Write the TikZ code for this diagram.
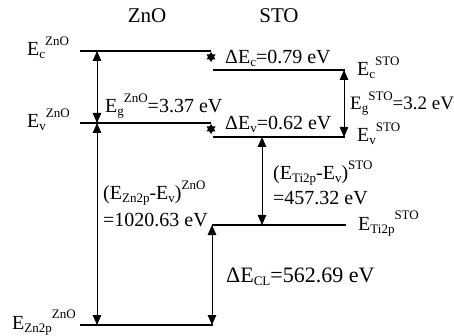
\documentclass[tikz,border=0pt]{standalone}
\usepackage{fontspec}
\setmainfont{Liberation Serif}
\usetikzlibrary{arrows.meta}
\newcommand\Sp[1]{\raisebox{0.52em}{\fontsize{13}{13}\selectfont #1}}
\newcommand\Sb[1]{\raisebox{-0.15em}{\fontsize{13}{13}\selectfont #1}}
\tikzset{
  lvl/.style={line width=1.3pt},
  dbl/.style={line width=1pt,{Triangle[length=10pt,width=8.5pt]}-{Triangle[length=10pt,width=8.5pt]}},
  lab/.style={anchor=base west,inner sep=0pt,font=\fontsize{20}{24}\selectfont},
  head/.style={anchor=base,inner sep=0pt,font=\fontsize{21}{24}\selectfont}
}
\begin{document}
\begin{tikzpicture}[x=1pt,y=-1pt]
\useasboundingbox (0,0) rectangle (454,336);
% level endpoints
\coordinate (cz1) at (80,51);  \coordinate (cz2) at (211,51);
\coordinate (vz1) at (80,123); \coordinate (vz2) at (211,123);
\coordinate (zn1) at (80,325); \coordinate (zn2) at (213,325);
\coordinate (cs1) at (213,70); \coordinate (cs2) at (345,70);
\coordinate (vs1) at (213,137); \coordinate (vs2) at (345,137);
\coordinate (ti1) at (212,225); \coordinate (ti2) at (346,225);
% arrow endpoints
\coordinate (a1t) at (97,51);  \coordinate (a1b) at (97,123);
\coordinate (a2b) at (97,325);
\coordinate (a3t) at (344,70); \coordinate (a3b) at (344,137);
\coordinate (a4t) at (262,137); \coordinate (a4b) at (262,225);
\coordinate (a5t) at (212,225); \coordinate (a5b) at (212,325);
\coordinate (dc) at (211,57);
\coordinate (dv) at (211,129);
% levels
\draw[lvl] (cz1) -- (cz2);
\draw[lvl] (vz1) -- (vz2);
\draw[lvl] (zn1) -- (zn2);
\draw[lvl] (cs1) -- (cs2);
\draw[lvl] (vs1) -- (vs2);
\draw[lvl] (ti1) -- (ti2);
% arrows
\draw[dbl] (a1t) -- (a1b);
\draw[dbl] (a1b) -- (a2b);
\draw[dbl] (a3t) -- (a3b);
\draw[dbl] (a4t) -- (a4b);
\draw[dbl] (a5t) -- (a5b);
% tiny offset markers (overlapping up/down heads)
\fill (dc) ++(-4.5,2.5) -- ++(9,0) -- ++(-4.5,-7.5) -- cycle;
\fill (dc) ++(-4.5,-2.5) -- ++(9,0) -- ++(-4.5,7.5) -- cycle;
\fill (dv) ++(-4.5,2.5) -- ++(9,0) -- ++(-4.5,-7.5) -- cycle;
\fill (dv) ++(-4.5,-2.5) -- ++(9,0) -- ++(-4.5,7.5) -- cycle;
% labels
\node[head] (hz) at (147,23) {ZnO};
\node[head] (hs) at (279,23) {STO};
\node[lab] (lcz) at (27,56) {E\Sb{c}\Sp{ZnO}};
\node[lab] (lvz) at (27,128) {E\Sb{v}\Sp{ZnO}};
\node[lab] (lzn) at (12,329) {E\Sb{Zn2p}\Sp{ZnO}};
\node[lab] (legz) at (105,113) {E\Sb{g}\Sp{ZnO}=3.37 eV};
\node[lab] (ldc) at (225,64) {ΔE\Sb{c}=0.79 eV};
\node[lab] (lcs) at (357,76) {E\Sb{c}\Sp{STO}};
\node[lab,font=\fontsize{19}{22}\selectfont] (legs) at (350,110) {E\Sb{g}\Sp{STO}=3.2 eV};
\node[lab] (ldv) at (225,130) {ΔE\Sb{v}=0.62 eV};
\node[lab] (lvs) at (357,142) {E\Sb{v}\Sp{STO}};
\node[lab] (lti1) at (273,180) {(E\Sb{Ti2p}-E\Sb{v})\Sp{STO}};
\node[lab] (lti2) at (273,205) {=457.32 eV};
\node[lab] (ltis) at (358,230) {E\Sb{Ti2p}\Sp{STO}};
\node[lab,font=\fontsize{22}{26}\selectfont] (lcl) at (226,282) {ΔE\Sb{CL}=562.69 eV};
\node[lab] (lzv1) at (103,200) {(E\Sb{Zn2p}-E\Sb{v})\Sp{ZnO}};
\node[lab] (lzv2) at (103,227) {=1020.63 eV};
\end{tikzpicture}
\end{document}
